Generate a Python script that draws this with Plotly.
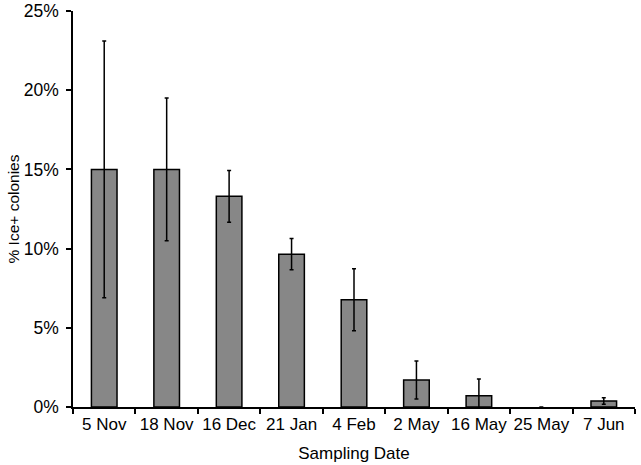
import plotly.graph_objects as go

categories = ["5 Nov", "18 Nov", "16 Dec", "21 Jan", "4 Feb", "2 May", "16 May", "25 May", "7 Jun"]
values = [15.0, 15.0, 13.3, 9.65, 6.77, 1.70, 0.71, 0.0, 0.38]
errors = [8.1, 4.5, 1.63, 0.98, 1.96, 1.2, 1.06, 0.0, 0.2]
y_tick_vals = [0, 5, 10, 15, 20, 25]
y_tick_text = ["0%", "5%", "10%", "15%", "20%", "25%"]

font_family = "Liberation Sans, Arial, Helvetica, sans-serif"

has_bar = [v > 0 for v in values]
outline_widths = [1.5 if b else 0 for b in has_bar]
outline_colors = ["black" if b else "rgba(0,0,0,0)" for b in has_bar]
fill_colors = ["#878787" if b else "rgba(0,0,0,0)" for b in has_bar]
err_plus = [e if b else None for e, b in zip(errors, has_bar)]

fig = go.Figure(
    go.Bar(
        x=categories,
        y=values,
        marker=dict(color=fill_colors, line=dict(color=outline_colors, width=outline_widths)),
        error_y=dict(type="data", array=err_plus, visible=True, color="black",
                     thickness=1.5, width=2),
        width=0.41,
    )
)

fig.update_layout(
    width=641,
    height=465,
    margin=dict(l=73, r=5.5, t=11, b=57.7),
    paper_bgcolor="white",
    plot_bgcolor="white",
    showlegend=False,
    font=dict(family=font_family, size=17, color="black"),
)

fig.update_xaxes(
    showline=True, linecolor="black", linewidth=1.5, layer="above traces",
    ticks="outside", ticklen=5, tickwidth=1.5, tickcolor="black",
    tickson="boundaries", tickangle=0,
    showgrid=False, zeroline=False, automargin=False,
    title=dict(text="Sampling Date", standoff=14, font=dict(size=17)),
    tickfont=dict(size=17),
    ticklabelstandoff=1,
    ticklabeloverflow="allow",
)

fig.update_yaxes(
    range=[0, 25],
    tickvals=y_tick_vals, ticktext=y_tick_text,
    showline=True, linecolor="black", linewidth=1.5,
    ticks="outside", ticklen=5, tickwidth=1.5, tickcolor="black",
    showgrid=False, zeroline=False, automargin=False,
    title=dict(text="% Ice+ colonies", standoff=0, font=dict(size=15.5)),
    tickfont=dict(size=17.5),
    ticklabelstandoff=4,
    ticklabeloverflow="allow",
)

fig.write_html(
    "out.html",
    config={"displayModeBar": False},
    post_script="document.body.style.margin='0';document.body.style.overflow='hidden';",
)
